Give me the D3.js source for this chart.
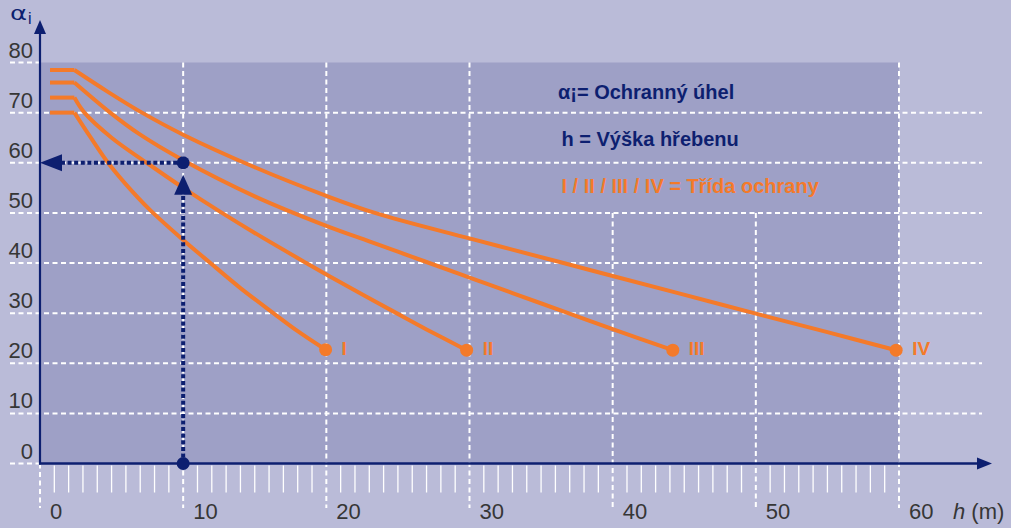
<!DOCTYPE html>
<html><head><meta charset="utf-8">
<script src="https://cdn.jsdelivr.net/npm/d3@7"></script>
<style>
html,body{margin:0;padding:0;background:#babbd8;}
svg{display:block;}
</style></head>
<body>
<svg id="c" width="1011" height="528"></svg>
<script>
// ---- data ----
const yTicks = [0,10,20,30,40,50,60,70,80];
const xTicks = [0,10,20,30,40,50,60];
const classNames = ["I","II","III","IV"];
const hI   = [0.7, 2.4, 3.5, 4.75, 6.0, 7.68, 10, 11.9, 14, 16.3, 18, 19.95];
const aI   = [70, 70, 65.2, 60, 55.7, 50.6, 44.6, 40, 35.0, 30, 26.4, 22.7];
const hII  = [0.7, 2.4, 3.1, 5, 7.45, 10, 12.6, 15, 18.6, 20.25, 24.9, 27, 29.8];
const aII  = [73, 73, 70, 65.0, 60, 55.0, 50.2, 46.0, 40, 37.3, 30.0, 26.75, 22.6];
const hIII = [0.7, 2.4, 4.9, 7, 10, 15, 20, 23, 26.8, 30, 33, 36.7, 40, 44.2];
const aIII = [76, 76, 70, 65.6, 60.5, 53.3, 47.4, 44.3, 40.4, 37.1, 34.0, 30.2, 26.8, 22.6];
const hIV  = [0.7, 2.4, 4.66, 7, 10, 15, 20, 23.5, 30, 36.3, 40, 44.7, 50, 55, 59.8];
const aIV  = [78.5, 78.5, 74.3, 70.2, 65.6, 59.1, 53.4, 49.9, 44.9, 40.2, 37.4, 33.9, 29.9, 26.2, 22.6];
const guideH = 10, guideA = 60;
const legendLines = ["α¡= Ochranný úhel", "h = Výška hřebenu", "I / II / III / IV = Třída ochrany"];
const yLabel = ["α","i"];
const xLabel = ["h", " (m)"];

// ---- styles ----
const ORANGE = "#f47a2a", NAVY = "#0d1f70", TEXT = "#363636";
const PANEL = "#9ea0c6", WHITE = "#ffffff";
const SANS = "Liberation Sans, Arial, sans-serif";

const svg = d3.select("#c");
const x = d3.scaleLinear().domain([0,60]).range([40,899]);
const y = d3.scaleLinear().domain([0,80]).range([463.5,62.5]);

svg.append("rect").attr("width",1011).attr("height",528).attr("fill","#babbd8");
svg.append("rect").attr("x",x(0)).attr("y",y(80)).attr("width",x(60)-x(0)).attr("height",y(0)-y(80)).attr("fill",PANEL);

const grid = svg.append("g").attr("stroke",WHITE).attr("stroke-width",2).attr("stroke-dasharray","5,3.5");
yTicks.forEach(v=>{
  const full = v>0 && v<80;
  grid.append("line").attr("x1",10).attr("x2", full?982:x(0)).attr("y1",y(v)).attr("y2",y(v));
});
xTicks.forEach(h=>{
  let top = y(80);
  if (h===0) top = y(0);
  if (h===40 || h===50) top = y(50);
  grid.append("line").attr("x1",x(h)).attr("x2",x(h)).attr("y1",top).attr("y2",508);
});
const minor = d3.range(1,60).filter(d=>d%10!==0);
svg.append("g").selectAll("line").data(minor).join("line")
  .attr("x1",d=>x(d)).attr("x2",d=>x(d)).attr("y1",y(0)+2).attr("y2",y(0)+29)
  .attr("stroke",WHITE).attr("stroke-width",1.3);

const ya = svg.append("g").attr("transform",`translate(33,0)`)
  .call(d3.axisLeft(y).tickValues(yTicks).tickSize(0).tickPadding(0).tickFormat(d3.format("d")));
ya.select(".domain").remove();
ya.selectAll("text").attr("dy",null).attr("y",-5.5)
  .attr("font-family",SANS).attr("font-size",22).attr("fill",TEXT);

const xa = svg.append("g").attr("transform",`translate(0,519)`)
  .call(d3.axisBottom(x).tickValues(xTicks).tickSize(0).tickPadding(0).tickFormat(d3.format("d")));
xa.select(".domain").remove();
xa.selectAll("text").attr("dy",null).attr("y",0).attr("x",9.5).attr("text-anchor","start")
  .attr("font-family",SANS).attr("font-size",22).attr("fill",TEXT);

svg.append("line").attr("x1",x(0)).attr("x2",x(0)).attr("y1",y(0)+1).attr("y2",32).attr("stroke",NAVY).attr("stroke-width",2.2);
svg.append("path").attr("d",`M${x(0)},20 L${x(0)-6},34 L${x(0)+6},34 Z`).attr("fill",NAVY);
svg.append("line").attr("x1",x(0)-1).attr("x2",979).attr("y1",y(0)).attr("y2",y(0)).attr("stroke",NAVY).attr("stroke-width",2.4);
svg.append("path").attr("d",`M992,${y(0)} L977,${y(0)-6} L977,${y(0)+6} Z`).attr("fill",NAVY);

svg.append("text").attr("transform","translate(10,19.5) scale(1.3,1)").attr("fill",NAVY)
  .attr("font-family","DejaVu Sans, sans-serif").attr("font-size",20).text(yLabel[0]);
svg.append("text").attr("x",28).attr("y",23.5).attr("fill",NAVY)
  .attr("font-family",SANS).attr("font-size",16).text(yLabel[1]);
const xt = svg.append("text").attr("x",953).attr("y",519).attr("fill",TEXT)
  .attr("font-family",SANS).attr("font-size",22);
xt.append("tspan").attr("font-style","italic").text(xLabel[0]);
xt.append("tspan").text(xLabel[1]);

const series = [[hI,aI],[hII,aII],[hIII,aIII],[hIV,aIV]].map((s,i)=>({
  name: classNames[i], pts: s[0].map((h,j)=>[h, s[1][j]])
}));
const flat = d3.line().x(d=>x(d[0])).y(d=>y(d[1]));
const curve = d3.line().x(d=>x(d[0])).y(d=>y(d[1])).curve(d3.curveCatmullRom.alpha(0.5));
const cg = svg.append("g").attr("fill","none").attr("stroke",ORANGE).attr("stroke-width",4);
series.forEach(s=>{
  cg.append("path").attr("d", flat(s.pts.slice(0,2)));
  cg.append("path").attr("d", curve(s.pts.slice(1))).attr("stroke-linejoin","round");
});
series.forEach(s=>{
  const last = s.pts[s.pts.length-1];
  svg.append("circle").attr("cx",x(last[0])).attr("cy",y(last[1])).attr("r",6.5).attr("fill",ORANGE);
  svg.append("text").attr("x",x(last[0])+16).attr("y",355).text(s.name)
    .attr("font-family",SANS).attr("font-weight","bold")
    .attr("font-size",19).attr("fill",ORANGE);
});

const dot = {stroke:NAVY,"stroke-width":4,"stroke-dasharray":"4,2.6"};
const gh = svg.append("line").attr("x1",x(guideH)-6).attr("x2",x(0)+22).attr("y1",y(guideA)).attr("y2",y(guideA));
const gv = svg.append("line").attr("x1",x(guideH)).attr("x2",x(guideH)).attr("y1",y(0)-6).attr("y2",y(guideA)+32);
[gh,gv].forEach(l=>Object.entries(dot).forEach(([k,v])=>l.attr(k,v)));
svg.append("path").attr("d",`M${x(0)},${y(guideA)} L${x(0)+22},${y(guideA)-8.5} L${x(0)+22},${y(guideA)+8.5} Z`).attr("fill",NAVY);
svg.append("path").attr("d",`M${x(guideH)},${y(guideA)+12} L${x(guideH)-9},${y(guideA)+32} L${x(guideH)+9},${y(guideA)+32} Z`).attr("fill",NAVY);
svg.append("circle").attr("cx",x(guideH)).attr("cy",y(guideA)).attr("r",6.5).attr("fill",NAVY);
svg.append("circle").attr("cx",x(guideH)).attr("cy",y(0)).attr("r",6.5).attr("fill",NAVY);

const legY = [99,146,192.5];
legendLines.forEach((t,i)=>{
  svg.append("text").attr("x", i===0?558:561.5).attr("y",legY[i]).text(t)
    .attr("font-family",SANS).attr("font-weight","bold")
    .attr("font-size",20).attr("fill", i===2?ORANGE:NAVY);
});
</script>
</body></html>
